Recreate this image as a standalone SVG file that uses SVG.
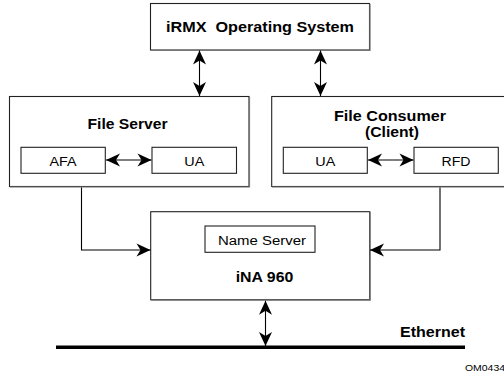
<svg xmlns="http://www.w3.org/2000/svg" width="504" height="375" viewBox="0 0 504 375">
<style>
.box{fill:#fff;stroke:#222;stroke-width:1.1}
.shadow{fill:none;stroke:#777;stroke-width:1.2}
.b{font-family:"Liberation Sans",Arial,sans-serif;font-weight:bold;font-size:14px;fill:#000}
.r{font-family:"Liberation Sans",Arial,sans-serif;font-size:12.5px;fill:#000}
.line{fill:none;stroke:#000;stroke-width:1.1}
</style>
<defs>
<marker id="ah" viewBox="-15 -7 16 14" refX="0" refY="0" markerUnits="userSpaceOnUse" markerWidth="16" markerHeight="14" orient="auto-start-reverse">
<path d="M0,0 L-14,-6.5 L-10,0 L-14,6.5 Z" fill="#000"/>
</marker>
</defs>
<rect width="504" height="375" fill="#fff"/>
<g id="irmx">
<rect class="box" x="150.5" y="3.5" width="219" height="46.5"/>
<polyline class="shadow" points="151,50.5 370,50.5 370,4"/>
<text class="b" x="260" y="32.3" text-anchor="middle" xml:space="preserve" textLength="188" lengthAdjust="spacingAndGlyphs">iRMX  Operating System</text>
</g>
<g id="file-server">
<rect class="box" x="9.5" y="96.5" width="239.5" height="90"/>
<polyline class="shadow" points="10,187 249.5,187 249.5,97"/>
<text class="b" x="127.5" y="129.3" text-anchor="middle" textLength="80" lengthAdjust="spacingAndGlyphs">File Server</text>
</g>
<g id="afa">
<rect class="box" x="21" y="147.3" width="84.3" height="26"/>
<text class="r" x="63" y="166" text-anchor="middle" textLength="27" lengthAdjust="spacingAndGlyphs">AFA</text>
</g>
<g id="ua-server">
<rect class="box" x="152" y="147.3" width="84.5" height="26"/>
<text class="r" x="194.3" y="166" text-anchor="middle" textLength="20" lengthAdjust="spacingAndGlyphs">UA</text>
</g>
<g id="file-consumer">
<rect class="box" x="271.7" y="96.5" width="240" height="90"/>
<polyline class="shadow" points="272,187 510,187"/>
<text class="b" x="390" y="121" text-anchor="middle" textLength="112" lengthAdjust="spacingAndGlyphs">File Consumer</text>
<text class="b" x="392" y="136.5" text-anchor="middle" textLength="54" lengthAdjust="spacingAndGlyphs">(Client)</text>
</g>
<g id="ua-client">
<rect class="box" x="283.3" y="147.3" width="84" height="26"/>
<text class="r" x="325.3" y="166" text-anchor="middle" textLength="20" lengthAdjust="spacingAndGlyphs">UA</text>
</g>
<g id="rfd">
<rect class="box" x="414" y="147.3" width="84.3" height="26"/>
<text class="r" x="456" y="166" text-anchor="middle" textLength="29" lengthAdjust="spacingAndGlyphs">RFD</text>
</g>
<g id="ina960">
<rect class="box" x="150.7" y="211.7" width="219" height="88"/>
<polyline class="shadow" points="151,300.2 370.2,300.2 370.2,212"/>
<text class="b" x="264.5" y="281.7" text-anchor="middle" textLength="57.6" lengthAdjust="spacingAndGlyphs">iNA 960</text>
</g>
<g id="name-server">
<rect class="box" x="205" y="226" width="110" height="26.3"/>
<text class="r" x="262" y="245" text-anchor="middle" textLength="88" lengthAdjust="spacingAndGlyphs">Name Server</text>
</g>
<g id="ethernet">
<line x1="56" y1="347.3" x2="465" y2="347.3" stroke="#000" stroke-width="3.5"/>
<text class="b" x="465" y="336.7" text-anchor="end" textLength="65" lengthAdjust="spacingAndGlyphs">Ethernet</text>
</g>
<text x="465" y="370.7" font-family="'Liberation Sans',Arial,sans-serif" font-size="9" textLength="40" lengthAdjust="spacingAndGlyphs">OM0434</text>
<g id="connectors">
<line class="line" x1="199.5" y1="50.5" x2="199.5" y2="96" marker-start="url(#ah)" marker-end="url(#ah)"/>
<line class="line" x1="320.5" y1="50.5" x2="320.5" y2="96" marker-start="url(#ah)" marker-end="url(#ah)"/>
<line class="line" x1="106" y1="160" x2="151.5" y2="160" marker-start="url(#ah)" marker-end="url(#ah)"/>
<line class="line" x1="368" y1="160" x2="413.5" y2="160" marker-start="url(#ah)" marker-end="url(#ah)"/>
<polyline class="line" points="81.5,187.5 81.5,250 150.5,250" marker-end="url(#ah)"/>
<polyline class="line" points="440,187.5 440,250 370,250" marker-end="url(#ah)"/>
<line class="line" x1="265.5" y1="300.8" x2="265.5" y2="346" marker-start="url(#ah)" marker-end="url(#ah)"/>
</g>
</svg>
